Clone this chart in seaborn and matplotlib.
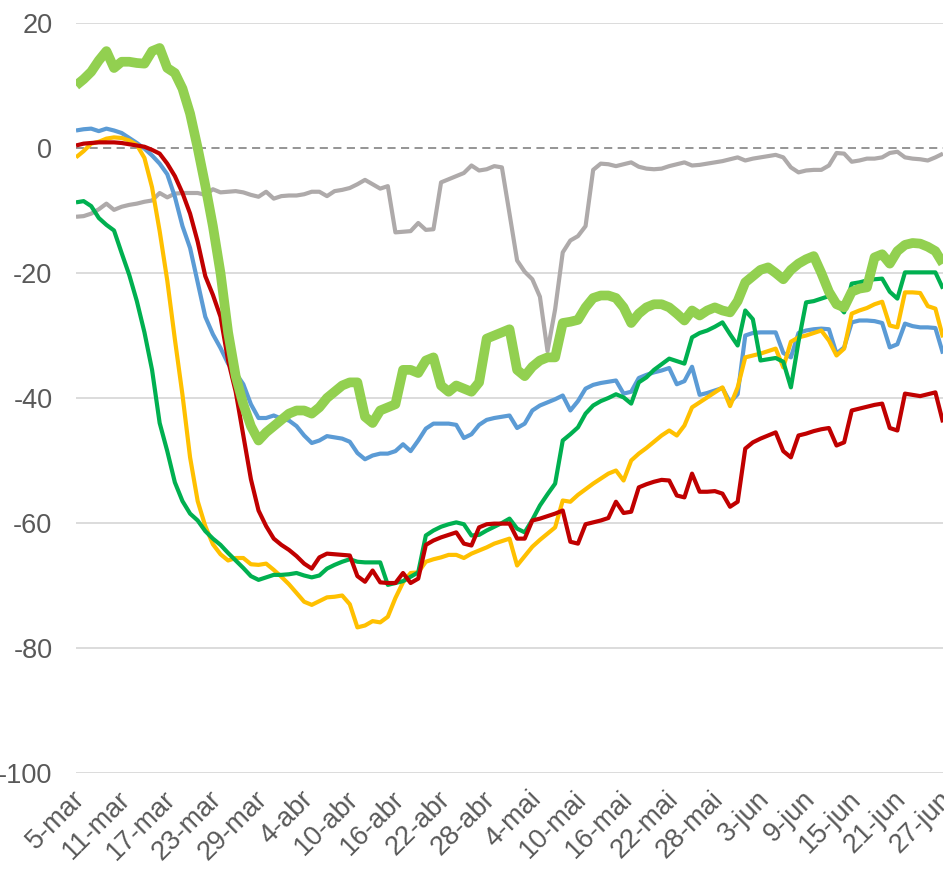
import matplotlib
matplotlib.use("Agg")
import matplotlib.pyplot as plt
import matplotlib.transforms as mtransforms
import seaborn as sns
import pandas as pd
import numpy as np

# ---------------- data ----------------
start_date = "2020-03-05"
n_days = 115

tick_labels = ['5-mar', '11-mar', '17-mar', '23-mar', '29-mar', '4-abr', '10-abr',
               '16-abr', '22-abr', '28-abr', '4-mai', '10-mai', '16-mai', '22-mai',
               '28-mai', '3-jun', '9-jun', '15-jun', '21-jun', '27-jun']
y_ticks = [20, 0, -20, -40, -60, -80, -100]

light_green = [10, 11, 12.2, 14, 15.5, 12.8, 13.8, 13.8, 13.6, 13.5,
               15.5, 16, 12.8, 12, 9.5, 5.5, 0, -6, -12.5, -20,
               -29.5, -36.5, -41, -44.5, -46.8, -45.5, -44.5, -43.5, -42.5, -42,
               -42, -42.5, -41.5, -40, -39, -38, -37.5, -37.5, -43, -44,
               -42, -41.5, -41, -35.5, -35.5, -36, -34, -33.5, -38, -39,
               -38, -38.5, -39, -37.5, -30.5, -30, -29.5, -29, -35.5, -36.5,
               -35, -34, -33.5, -33.5, -28, -27.8, -27.5, -25.5, -24, -23.6,
               -23.6, -24, -25.5, -28, -26.5, -25.5, -25, -25, -25.5, -26.5,
               -27.6, -26, -26.8, -26, -25.5, -26, -26.3, -24.5, -21.5, -20.5,
               -19.5, -19.1, -20, -21, -19.5, -18.5, -17.8, -17.3, -20, -23,
               -25, -25.5, -23, -22.5, -22.3, -17.5, -17, -18.5, -16.5, -15.5,
               -15.2, -15.3, -15.8, -16.5, -18.5]

blue = [2.8, 3, 3.1, 2.7, 3.1, 2.8, 2.4, 1.6, 0.8, -0.1,
        -1.2, -2.5, -4.2, -7.8, -12.5, -16, -21.5, -27, -29.8, -32,
        -34.5, -36, -37.8, -41, -43.2, -43.2, -42.8, -43.3, -43.6, -44.5,
        -46, -47.2, -46.8, -46.1, -46.3, -46.5, -47, -48.8, -49.8, -49.2,
        -48.9, -48.9, -48.5, -47.4, -48.5, -46.8, -44.9, -44.1, -44.1, -44.1,
        -44.3, -46.4, -45.8, -44.3, -43.5, -43.2, -43, -42.8, -44.8, -44.1,
        -42, -41.2, -40.7, -40.2, -39.6, -42, -40.5, -38.5, -37.9, -37.6,
        -37.4, -37.2, -39.3, -39, -36.8, -36.3, -35.9, -35.6, -35.2, -37.8,
        -37.3, -35, -39.5, -39.2, -38.8, -38.4, -40.7, -39.4, -30, -29.6,
        -29.5, -29.5, -29.5, -32.8, -33.5, -29.6, -29.2, -29, -28.9, -29,
        -32.9, -31.9, -27.9, -27.6, -27.6, -27.7, -28, -31.9, -31.4, -28.1,
        -28.5, -28.7, -28.7, -28.8, -32.9]

red = [0.4, 0.7, 0.8, 0.9, 0.9, 0.9, 0.8, 0.6, 0.4, 0.2,
       -0.3, -0.9, -2.5, -4.5, -7.2, -10.5, -15, -20.5, -23.5, -27,
       -34, -39, -46, -53, -58, -60.5, -62.5, -63.5, -64.3, -65.3,
       -66.5, -67.3, -65.5, -64.9, -65, -65.1, -65.2, -68.5, -69.4, -67.6,
       -69.5, -69.6, -69.6, -68, -69.6, -68.9, -63.5, -62.8, -62.3, -61.9,
       -61.5, -63.3, -63.6, -60.7, -60.2, -60.1, -60.1, -60.1, -62.5, -62.5,
       -59.6, -59.3, -58.9, -58.5, -58, -63, -63.3, -60.2, -59.9, -59.6,
       -59.2, -56.6, -58.4, -58.2, -54.3, -53.8, -53.4, -53.1, -53.2, -55.6,
       -55.9, -52.1, -55, -55, -54.9, -55.3, -57.4, -56.6, -48.1, -47.1,
       -46.5, -46, -45.5, -48.5, -49.5, -46, -45.7, -45.3, -45, -44.8,
       -47.6, -47.1, -42, -41.7, -41.4, -41.1, -40.9, -44.8, -45.2, -39.3,
       -39.5, -39.7, -39.4, -39.1, -43.9]

yellow = [-1.5, -0.5, 0.7, 1, 1.5, 1.7, 1.6, 1.2, 0.5, -1.6,
          -6.3, -13.3, -21.2, -30.6, -39.5, -49.5, -56.5, -60.5, -63.4, -65,
          -66, -65.6, -65.6, -66.6, -66.7, -66.5, -67.5, -68.6, -69.8, -71.2,
          -72.6, -73.1, -72.5, -71.9, -71.8, -71.6, -73, -76.7, -76.4, -75.7,
          -75.9, -75, -72, -69.5, -68, -67.9, -66.2, -65.8, -65.5, -65.1,
          -65.1, -65.6, -64.9, -64.4, -63.9, -63.3, -62.9, -62.5, -66.8, -65.3,
          -63.8, -62.7, -61.7, -60.7, -56.4, -56.6, -55.5, -54.6, -53.7, -52.9,
          -52.1, -51.6, -53.2, -50, -48.9, -48, -47, -46, -45.2, -46,
          -44.4, -41.5, -40.7, -39.9, -39.1, -38.3, -41.3, -38.3, -33.5, -33.2,
          -32.9, -32.5, -32.1, -35.1, -31, -30.3, -30, -29.6, -29.2, -30.8,
          -33.2, -32.1, -26.5, -26, -25.6, -25, -24.6, -28.4, -28.7, -23.1,
          -23.1, -23.2, -25.3, -25.7, -30.3]

dark_green = [-8.7, -8.5, -9.3, -11.2, -12.3, -13.2, -16.8, -20.3, -24.5, -29.5,
              -35.5, -44, -48.5, -53.5, -56.5, -58.5, -59.6, -61.3, -62.5, -63.5,
              -64.8, -66, -67.2, -68.5, -69.1, -68.7, -68.3, -68.3, -68.2, -68,
              -68.4, -68.7, -68.4, -67.3, -66.7, -66.2, -65.8, -66.2, -66.3, -66.3,
              -66.3, -69.9, -69.6, -69.3, -68.6, -67.9, -62, -61.2, -60.6, -60.2,
              -59.9, -60.2, -62, -61.9, -61.2, -60.6, -60, -59.3, -60.9, -61.5,
              -59.5, -57.2, -55.4, -53.7, -46.8, -45.8, -44.7, -42.5, -41.2, -40.5,
              -40, -39.4, -39.9, -40.9, -37.5, -36.7, -35.5, -34.6, -33.7, -34.1,
              -34.5, -30.3, -29.6, -29.2, -28.6, -27.9, -29.8, -31.6, -26, -27.4,
              -34, -33.8, -33.6, -34.2, -38.3, -31, -24.7, -24.5, -24.1, -23.7,
              -24.9, -26.3, -21.7, -21.5, -21.2, -21, -20.9, -23, -24.1, -19.9,
              -19.9, -19.9, -19.9, -19.9, -22.5]

gray = [-11, -10.9, -10.5, -9.8, -8.9, -9.9, -9.4, -9.1, -8.9, -8.6,
        -8.4, -7.2, -7.9, -7.3, -7.2, -7.2, -7.2, -7.5, -6.6, -7.1,
        -7, -6.9, -7.1, -7.5, -7.8, -7, -8.1, -7.7, -7.6, -7.6,
        -7.4, -7, -7, -7.7, -6.9, -6.7, -6.4, -5.8, -5.1, -5.8,
        -6.5, -6.1, -13.5, -13.4, -13.3, -12, -13.1, -13, -5.5, -5,
        -4.5, -4, -2.8, -3.6, -3.4, -2.9, -3.1, -10.5, -18, -19.8,
        -21, -23.8, -32.5, -25.8, -16.7, -14.8, -14.1, -12.5, -3.5, -2.5,
        -2.6, -2.9, -2.6, -2.3, -3, -3.3, -3.4, -3.3, -2.9, -2.6,
        -2.3, -2.8, -2.7, -2.5, -2.3, -2.1, -1.8, -1.5, -2, -1.7,
        -1.5, -1.3, -1.1, -1.5, -3.1, -3.9, -3.6, -3.5, -3.5, -2.8,
        -0.8, -0.9, -2.2, -2, -1.7, -1.7, -1.5, -0.8, -0.6, -1.5,
        -1.7, -1.8, -2, -1.5, -0.9]

# ---------------- plot ----------------
sns.set_theme(style="white")
plt.rcParams['font.family'] = ['Liberation Sans', 'DejaVu Sans']

dates = pd.date_range(start_date, periods=n_days, freq="D")
tick_dates = dates[::6]

fig = plt.figure(figsize=(9.44, 8.69), dpi=100)
ax = fig.add_axes([76 / 944, 1 - 773 / 869, (943 - 76) / 944, (773 - 23) / 869])

# grid lines
for v in y_ticks:
    if v == 0:
        continue
    ax.axhline(v, color="#D9D9D9", lw=1.3, zorder=0)
ax.axhline(0, color="#8C8C8C", lw=1.3, ls=(0, (4.5, 3)), zorder=0.5)

series = [
    (gray, "#AEAAAA", 3.0),
    (blue, "#5B9BD5", 3.0),
    (yellow, "#FFC000", 3.0),
    (dark_green, "#00B050", 3.0),
    (red, "#C00000", 3.0),
    (light_green, "#92D050", 7.0),
]
for vals, col, lw in series:
    sns.lineplot(x=dates, y=vals, color=col, linewidth=lw, ax=ax,
                 solid_joinstyle="round", solid_capstyle="butt")

ax.set_xlim(dates[0], dates[-1])
ax.set_ylim(-100, 20)
ax.set_yticks(y_ticks)
ax.set_yticklabels([str(v) for v in y_ticks])
ax.set_xticks(tick_dates)
ax.set_xticklabels(tick_labels)
ax.set_xlabel("")
ax.set_ylabel("")
for s in ax.spines.values():
    s.set_visible(False)
ax.grid(False)

ax.tick_params(axis="y", length=0, pad=17, labelsize=19.5, labelcolor="#595959")
ax.tick_params(axis="x", length=0, pad=16, labelsize=19.5, labelcolor="#595959")
offset = mtransforms.ScaledTranslation(5 / 100, 0, fig.dpi_scale_trans)
for lab in ax.get_xticklabels():
    lab.set_rotation(45)
    lab.set_ha("right")
    lab.set_va("center")
    lab.set_rotation_mode("anchor")
    lab.set_transform(lab.get_transform() + offset)

fig.savefig("out.png", dpi=100)
